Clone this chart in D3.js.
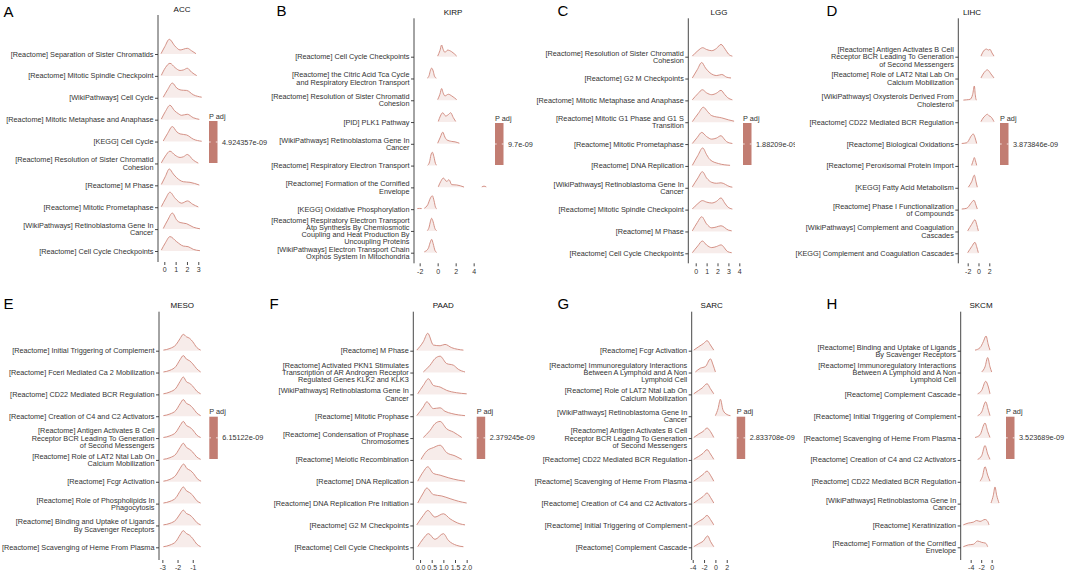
<!DOCTYPE html>
<html><head><meta charset="utf-8">
<script src="https://cdn.jsdelivr.net/npm/d3@7"></script>
<style>
body{margin:0;background:#fff}
svg{display:block}
text{font-family:"Liberation Sans",Arial,Helvetica,sans-serif}
</style>
</head><body>
<svg id="c" width="1065" height="571"></svg>
<script>
// ---------------- DATA ----------------
const panelTitles = ["ACC","KIRP","LGG","LIHC","MESO","PAAD","SARC","SKCM"];
const panelLetters = ["A","B","C","D","E","F","G","H"];
const padjLabels = ["4.924357e-09","9.7e-09","1.88209e-09","3.873846e-09","6.15122e-09","2.379245e-09","2.833708e-09","3.523689e-09"];
const xTickValues = [[0,1,2,3],[-2,0,2,4],[0,1,2,3,4],[-2,0,2],[-3,-2,-1],[0,0.5,1,1.5,2],[-4,-2,0,2],[-4,-2,0]];
const xTickLabels = [["0","1","2","3"],["-2","0","2","4"],["0","1","2","3","4"],["-2","0","2"],["-3","-2","-1"],["0.0","0.5","1.0","1.5","2.0"],["-4","-2","0","2"],["-4","-2","0"]];

const accTerms = ["[Reactome] Separation of Sister Chromatids","[Reactome] Mitotic Spindle Checkpoint","[WikiPathways] Cell Cycle","[Reactome] Mitotic Metaphase and Anaphase","[KEGG] Cell Cycle","[Reactome] Resolution of Sister Chromatid\nCohesion","[Reactome] M Phase","[Reactome] Mitotic Prometaphase","[WikiPathways] Retinoblastoma Gene In\nCancer","[Reactome] Cell Cycle Checkpoints"];
const kirpTerms = ["[Reactome] Cell Cycle Checkpoints","[Reactome] the Citric Acid Tca Cycle\nand Respiratory Electron Transport","[Reactome] Resolution of Sister Chromatid\nCohesion","[PID] PLK1 Pathway","[WikiPathways] Retinoblastoma Gene In\nCancer","[Reactome] Respiratory Electron Transport","[Reactome] Formation of the Cornified\nEnvelope","[KEGG] Oxidative Phosphorylation","[Reactome] Respiratory Electron Transport\nAtp Synthesis By Chemiosmotic\nCoupling and Heat Production By\nUncoupling Proteins","[WikiPathways] Electron Transport Chain\nOxphos System In Mitochondria"];
const lggTerms = ["[Reactome] Resolution of Sister Chromatid\nCohesion","[Reactome] G2 M Checkpoints","[Reactome] Mitotic Metaphase and Anaphase","[Reactome] Mitotic G1 Phase and G1 S\nTransition","[Reactome] Mitotic Prometaphase","[Reactome] DNA Replication","[WikiPathways] Retinoblastoma Gene In\nCancer","[Reactome] Mitotic Spindle Checkpoint","[Reactome] M Phase","[Reactome] Cell Cycle Checkpoints"];
const lihcTerms = ["[Reactome] Antigen Activates B Cell\nReceptor BCR Leading To Generation\nof Second Messengers","[Reactome] Role of LAT2 Ntal Lab On\nCalcium Mobilization","[WikiPathways] Oxysterols Derived From\nCholesterol","[Reactome] CD22 Mediated BCR Regulation","[Reactome] Biological Oxidations","[Reactome] Peroxisomal Protein Import","[KEGG] Fatty Acid Metabolism","[Reactome] Phase I Functionalization\nof Compounds","[WikiPathways] Complement and Coagulation\nCascades","[KEGG] Complement and Coagulation Cascades"];
const mesoTerms = ["[Reactome] Initial Triggering of Complement","[Reactome] Fceri Mediated Ca 2 Mobilization","[Reactome] CD22 Mediated BCR Regulation","[Reactome] Creation of C4 and C2 Activators","[Reactome] Antigen Activates B Cell\nReceptor BCR Leading To Generation\nof Second Messengers","[Reactome] Role of LAT2 Ntal Lab On\nCalcium Mobilization","[Reactome] Fcgr Activation","[Reactome] Role of Phospholipids In\nPhagocytosis","[Reactome] Binding and Uptake of Ligands\nBy Scavenger Receptors","[Reactome] Scavenging of Heme From Plasma"];
const paadTerms = ["[Reactome] M Phase","[Reactome] Activated PKN1 Stimulates\nTranscription of AR Androgen Receptor\nRegulated Genes KLK2 and KLK3","[WikiPathways] Retinoblastoma Gene In\nCancer","[Reactome] Mitotic Prophase","[Reactome] Condensation of Prophase\nChromosomes","[Reactome] Meiotic Recombination","[Reactome] DNA Replication","[Reactome] DNA Replication Pre Initiation","[Reactome] G2 M Checkpoints","[Reactome] Cell Cycle Checkpoints"];
const sarcTerms = ["[Reactome] Fcgr Activation","[Reactome] Immunoregulatory Interactions\nBetween A Lymphoid and A Non\nLymphoid Cell","[Reactome] Role of LAT2 Ntal Lab On\nCalcium Mobilization","[WikiPathways] Retinoblastoma Gene In\nCancer","[Reactome] Antigen Activates B Cell\nReceptor BCR Leading To Generation\nof Second Messengers","[Reactome] CD22 Mediated BCR Regulation","[Reactome] Scavenging of Heme From Plasma","[Reactome] Creation of C4 and C2 Activators","[Reactome] Initial Triggering of Complement","[Reactome] Complement Cascade"];
const skcmTerms = ["[Reactome] Binding and Uptake of Ligands\nBy Scavenger Receptors","[Reactome] Immunoregulatory Interactions\nBetween A Lymphoid and A Non\nLymphoid Cell","[Reactome] Complement Cascade","[Reactome] Initial Triggering of Complement","[Reactome] Scavenging of Heme From Plasma","[Reactome] Creation of C4 and C2 Activators","[Reactome] CD22 Mediated BCR Regulation","[WikiPathways] Retinoblastoma Gene In\nCancer","[Reactome] Keratinization","[Reactome] Formation of the Cornified\nEnvelope"];

// ridge density profiles: [value, relative density] (null = gap)
const accRidges = [
 [[-0.29,0.02],[0.05,0.5],[0.44,0.98],[0.94,0.53],[1.39,0.27],[2.03,0.38],[2.4,0.22],[2.8,0.02]],
 [[-0.26,0.04],[0.1,0.55],[0.5,0.84],[0.95,0.55],[1.39,0.36],[1.7,0.4],[2.03,0.51],[2.4,0.25],[2.86,0.02]],
 [[-0.09,0.04],[0.3,0.55],[0.71,0.98],[1.1,0.65],[1.39,0.53],[1.7,0.5],[1.97,0.49],[2.56,0.2],[3.3,0.04]],
 [[-0.26,0.04],[0.1,0.55],[0.5,0.96],[0.9,0.6],[1.24,0.4],[1.53,0.29],[2.03,0.36],[2.56,0.13],[3.09,0.02]],
 [[-0.09,0.04],[0.3,0.55],[0.71,1.0],[1.1,0.65],[1.39,0.51],[1.97,0.44],[2.56,0.16],[3.3,0.02]],
 [[-0.26,0.04],[0.1,0.5],[0.5,0.82],[0.95,0.55],[1.39,0.4],[1.7,0.45],[2.03,0.6],[2.56,0.22],[3.0,0.02]],
 [[-0.26,0.06],[0.1,0.6],[0.44,1.09],[0.8,0.75],[1.09,0.51],[1.68,0.24],[2.27,0.2],[3.09,0.02]],
 [[-0.26,0.04],[0.1,0.55],[0.5,1.0],[0.95,0.6],[1.53,0.27],[2.05,0.42],[2.5,0.2],[3.0,0.02]],
 [[-0.09,0.04],[0.3,0.6],[0.71,1.07],[1.1,0.6],[1.39,0.44],[1.97,0.36],[2.56,0.13],[3.15,0.02]],
 [[-0.26,0.06],[0.1,0.55],[0.5,0.96],[1.09,0.62],[1.68,0.33],[2.1,0.29],[2.56,0.11],[3.15,0.02]]
];
const kirpRidges = [
 [[0.0,0.04],[0.25,0.4],[0.44,0.78],[0.6,0.5],[0.81,0.29],[1.11,0.44],[1.56,0.33],[2.11,0.04]],
 [[-1.15,0.02],[-0.95,0.2],[-0.8,0.55],[-0.67,0.69],[-0.5,0.5],[-0.35,0.15],[-0.15,0.02]],
 [[0.0,0.04],[0.25,0.4],[0.44,0.78],[0.6,0.5],[0.81,0.29],[1.19,0.4],[1.56,0.29],[2.11,0.04]],
 [[0.07,0.04],[0.3,0.4],[0.56,0.62],[0.89,0.4],[1.2,0.5],[1.44,0.62],[1.74,0.29],[2.0,0.04]],
 [[0.0,0.04],[0.3,0.45],[0.56,0.78],[0.8,0.45],[1.0,0.27],[1.56,0.16],[1.93,0.13],[2.41,0.04]],
 [[-1.11,0.02],[-0.9,0.25],[-0.75,0.7],[-0.59,0.89],[-0.42,0.6],[-0.25,0.15],[-0.11,0.02]],
 [[0.07,0.04],[0.35,0.4],[0.63,0.62],[1.0,0.4],[1.26,0.51],[1.56,0.18],[2.11,0.16],[2.93,0.02],[3.5,null],[4.9,0.03],[5.15,0.08],[5.4,0.03]],
 [[-2.26,0.04],[-2.0,0.05],[-1.78,0.04],[-1.6,null],[-1.48,0.06],[-1.1,0.3],[-0.8,0.75],[-0.59,0.89],[-0.4,0.55],[-0.25,0.15],[-0.11,0.02]],
 [[-1.15,0.02],[-0.95,0.25],[-0.8,0.65],[-0.67,0.84],[-0.5,0.6],[-0.3,0.15],[-0.11,0.02]],
 [[-1.48,0.06],[-1.04,0.29],[-0.85,0.65],[-0.67,0.89],[-0.5,0.6],[-0.3,0.15],[-0.11,0.02]]
];
const lggRidges = [
 [[-0.31,0.04],[0.2,0.4],[0.64,0.6],[1.0,0.48],[1.47,0.4],[1.9,0.55],[2.32,0.82],[2.7,0.5],[3.0,0.18],[3.36,0.04]],
 [[-0.31,0.04],[0.15,0.6],[0.55,1.07],[0.9,0.7],[1.31,0.38],[1.93,0.2],[2.39,0.27],[2.84,0.09],[3.24,0.04]],
 [[-0.31,0.04],[0.2,0.45],[0.61,0.71],[1.0,0.5],[1.47,0.38],[1.9,0.48],[2.32,0.67],[2.65,0.4],[2.94,0.18],[3.36,0.04]],
 [[-0.31,0.04],[0.25,0.6],[0.7,1.0],[1.1,0.7],[1.47,0.44],[2.39,0.29],[3.0,0.16],[3.52,0.07]],
 [[-0.31,0.04],[0.15,0.45],[0.55,0.78],[1.0,0.5],[1.47,0.33],[1.9,0.4],[2.32,0.56],[2.6,0.35],[2.84,0.16],[3.36,0.04]],
 [[-0.31,0.04],[0.2,0.7],[0.64,1.2],[1.0,0.75],[1.31,0.42],[2.08,0.16],[3.15,0.04]],
 [[-0.31,0.06],[0.2,0.65],[0.61,1.07],[1.0,0.65],[1.47,0.36],[1.9,0.3],[2.32,0.33],[3.15,0.07],[3.36,0.04]],
 [[-0.31,0.04],[0.2,0.4],[0.61,0.6],[1.0,0.5],[1.47,0.44],[1.9,0.55],[2.32,0.78],[2.65,0.45],[2.94,0.18],[3.36,0.04]],
 [[-0.31,0.04],[0.15,0.6],[0.55,0.98],[1.0,0.5],[1.47,0.24],[1.9,0.3],[2.32,0.38],[3.0,0.09],[3.3,0.04]],
 [[-0.31,0.04],[0.2,0.5],[0.61,0.82],[1.0,0.55],[1.47,0.38],[1.9,0.45],[2.32,0.56],[2.94,0.11],[3.3,0.04]]
];
const lihcRidges = [
 [[0.46,0.04],[0.8,0.3],[1.08,0.44],[1.51,0.51],[1.82,0.44],[2.13,0.49],[2.5,0.25],[2.87,0.04]],
 [[0.46,0.04],[0.85,0.3],[1.2,0.47],[1.64,0.58],[2.0,0.47],[2.3,0.31],[2.87,0.04]],
 [[-2.8,0.02],[-2.2,0.04],[-1.57,0.07],[-1.08,0.4],[-0.77,0.96],[-0.6,0.4],[-0.46,0.07],[-0.34,0.02]],
 [[0.46,0.04],[0.85,0.28],[1.2,0.42],[1.64,0.53],[2.0,0.42],[2.3,0.36],[2.87,0.04]],
 [[-3.1,0.04],[-2.19,0.09],[-1.8,0.25],[-1.45,0.49],[-0.96,0.67],[-0.65,0.44],[-0.34,0.04]],
 [[-1.27,0.04],[-0.96,0.38],[-0.77,0.56],[-0.59,0.38],[-0.34,0.04]],
 [[-1.88,0.04],[-1.27,0.4],[-0.77,0.84],[-0.46,0.4],[-0.22,0.04]],
 [[-3.1,0.04],[-2.19,0.09],[-1.8,0.22],[-1.45,0.4],[-0.83,0.62],[-0.46,0.29],[-0.22,0.04]],
 [[-2.0,0.04],[-1.27,0.47],[-0.65,0.78],[-0.34,0.47],[-0.03,0.04]],
 [[-2.0,0.04],[-1.27,0.44],[-0.65,0.73],[-0.34,0.44],[-0.03,0.04]]
];
const mesoRidges = [
 [[-2.93,0.04],[-2.5,0.15],[-2.1,0.4],[-1.84,0.8],[-1.62,1.09],[-1.42,0.93],[-1.2,0.82],[-1.0,0.6],[-0.74,0.22],[-0.48,0.04]],
 [[-2.93,0.04],[-2.5,0.15],[-2.1,0.42],[-1.84,0.85],[-1.62,1.13],[-1.42,0.9],[-1.2,0.78],[-1.0,0.58],[-0.74,0.25],[-0.48,0.04]],
 [[-2.93,0.04],[-2.5,0.16],[-2.1,0.42],[-1.84,0.85],[-1.62,1.16],[-1.42,0.85],[-1.2,0.73],[-1.0,0.55],[-0.74,0.22],[-0.48,0.04]],
 [[-2.93,0.04],[-2.5,0.15],[-2.1,0.4],[-1.84,0.82],[-1.62,1.11],[-1.42,0.86],[-1.2,0.75],[-1.0,0.56],[-0.74,0.22],[-0.48,0.04]],
 [[-2.93,0.04],[-2.5,0.15],[-2.1,0.4],[-1.84,0.82],[-1.62,1.11],[-1.42,0.84],[-1.2,0.72],[-1.0,0.55],[-0.74,0.2],[-0.48,0.04]],
 [[-2.93,0.04],[-2.5,0.15],[-2.1,0.4],[-1.84,0.82],[-1.62,1.11],[-1.42,0.84],[-1.2,0.7],[-1.0,0.52],[-0.74,0.2],[-0.48,0.04]],
 [[-2.93,0.04],[-2.5,0.16],[-2.1,0.45],[-1.84,0.88],[-1.6,1.18],[-1.38,0.88],[-1.15,0.75],[-0.95,0.55],[-0.7,0.2],[-0.45,0.04]],
 [[-2.93,0.04],[-2.5,0.15],[-2.1,0.4],[-1.84,0.82],[-1.62,1.11],[-1.42,0.86],[-1.2,0.73],[-1.0,0.55],[-0.74,0.2],[-0.48,0.04]],
 [[-2.93,0.04],[-2.5,0.14],[-2.1,0.38],[-1.84,0.76],[-1.62,1.02],[-1.42,0.8],[-1.2,0.7],[-1.0,0.52],[-0.74,0.2],[-0.48,0.04]],
 [[-2.93,0.04],[-2.5,0.15],[-2.1,0.4],[-1.84,0.82],[-1.62,1.11],[-1.42,0.92],[-1.2,0.8],[-1.0,0.58],[-0.74,0.22],[-0.48,0.04]]
];
const paadRidges = [
 [[-0.14,0.04],[0.14,0.6],[0.33,1.16],[0.57,0.38],[0.86,0.33],[1.07,0.42],[1.36,0.2],[1.86,0.04]],
 [[0.14,0.04],[0.43,0.49],[0.64,0.93],[0.86,1.09],[1.14,0.6],[1.43,0.49],[1.64,0.22],[1.93,0.04]],
 [[-0.1,0.04],[0.14,0.6],[0.36,1.04],[0.57,0.6],[0.86,0.49],[1.14,0.27],[1.57,0.11],[2.0,0.04]],
 [[-0.14,0.04],[0.14,0.62],[0.29,0.96],[0.57,0.51],[0.86,0.56],[1.07,0.33],[1.36,0.18],[1.93,0.04]],
 [[0.14,0.04],[0.43,0.51],[0.64,0.96],[0.86,1.11],[1.14,0.62],[1.43,0.4],[1.79,0.04]],
 [[0.04,0.04],[0.29,0.6],[0.57,0.82],[0.86,0.98],[1.14,0.49],[1.5,0.27],[1.79,0.04]],
 [[-0.1,0.04],[0.14,0.67],[0.33,1.0],[0.57,0.56],[0.86,0.44],[1.21,0.27],[1.64,0.11],[1.93,0.04]],
 [[-0.1,0.04],[0.14,0.71],[0.29,1.04],[0.57,0.6],[0.93,0.51],[1.29,0.33],[1.64,0.16],[2.0,0.04]],
 [[-0.14,0.04],[0.14,0.67],[0.33,1.0],[0.64,0.56],[1.0,0.78],[1.29,0.44],[1.71,0.11],[1.93,0.04]],
 [[-0.1,0.04],[0.14,0.58],[0.36,0.91],[0.64,0.53],[1.0,0.91],[1.21,0.47],[1.57,0.13],[1.86,0.04]]
];
const sarcRidges = [
 [[-3.82,0.04],[-2.94,0.27],[-2.06,0.49],[-1.47,0.67],[-0.88,0.38],[-0.29,0.04]],
 [[-3.53,0.04],[-2.65,0.29],[-1.76,0.4],[-0.88,0.91],[-0.41,0.51],[0.0,0.04]],
 [[-3.82,0.04],[-2.94,0.27],[-2.35,0.42],[-1.47,0.71],[-0.88,0.38],[-0.29,0.04]],
 [[0.0,0.04],[0.47,0.51],[0.88,1.13],[1.35,0.4],[2.06,0.11],[2.65,0.04]],
 [[-3.82,0.04],[-2.94,0.27],[-2.18,0.44],[-1.47,0.67],[-0.88,0.44],[-0.29,0.04]],
 [[-3.82,0.04],[-2.94,0.24],[-2.18,0.44],[-1.47,0.69],[-0.88,0.4],[-0.29,0.04]],
 [[-3.82,0.04],[-2.94,0.27],[-2.18,0.49],[-1.47,0.71],[-0.88,0.44],[-0.29,0.04]],
 [[-3.82,0.04],[-2.94,0.27],[-2.18,0.47],[-1.47,0.71],[-0.88,0.42],[-0.29,0.04]],
 [[-3.82,0.04],[-2.94,0.27],[-2.18,0.44],[-1.47,0.67],[-0.88,0.4],[-0.29,0.04]],
 [[-3.82,0.04],[-2.94,0.24],[-2.18,0.4],[-1.35,0.76],[-0.88,0.4],[-0.29,0.04]]
];
const skcmRidges = [
 [[-3.17,0.04],[-2.22,0.2],[-1.59,0.6],[-1.08,0.98],[-0.63,0.38],[-0.32,0.04]],
 [[-1.9,0.04],[-1.27,0.38],[-0.76,1.0],[-0.32,0.38],[0.0,0.04]],
 [[-2.67,0.04],[-1.9,0.27],[-1.14,0.87],[-0.63,0.49],[-0.32,0.04]],
 [[-2.67,0.04],[-1.9,0.29],[-1.14,0.96],[-0.63,0.4],[-0.32,0.04]],
 [[-3.17,0.04],[-2.22,0.22],[-1.27,1.0],[-0.76,0.44],[-0.32,0.04]],
 [[-2.67,0.04],[-1.9,0.29],[-1.27,0.96],[-0.76,0.4],[-0.32,0.04]],
 [[-2.22,0.04],[-1.78,0.33],[-1.27,1.0],[-0.76,0.44],[-0.32,0.04]],
 [[-0.13,0.04],[0.32,0.56],[0.63,1.11],[0.95,0.56],[1.4,0.04]],
 [[-5.4,0.04],[-4.44,0.16],[-3.49,0.22],[-2.86,0.33],[-2.22,0.27],[-1.27,0.4],[-0.76,0.27],[-0.51,0.04]],
 [[-5.4,0.04],[-4.44,0.16],[-3.49,0.2],[-2.67,0.42],[-1.9,0.33],[-1.14,0.27],[-0.76,0.04]]
];

const allTerms = [accTerms,kirpTerms,lggTerms,lihcTerms,mesoTerms,paadTerms,sarcTerms,skcmTerms];
const allRidges = [accRidges,kirpRidges,lggRidges,lihcRidges,mesoRidges,paadRidges,sarcRidges,skcmRidges];

// ---------------- LAYOUT (positions / sizes) ----------------
const layout = [
 {x0:158,  kx:11.33, d0:-0.556, d1:3.6, yTop:15,   yBot:262,   r0:54,    r1:251,   tx:182,   ty:12.3, lx:3.5,  ly:16.5, bx:209,   bt:121,   bb:163, clipR:null},
 {x0:414,  kx:9.0,   d0:-2.63,  d1:6.0, yTop:18.3, yBot:263.3, r0:56.7,  r1:252.7, tx:453,   ty:14.5, lx:276.5,ly:15.5, bx:495,   bt:123,   bb:165, clipR:null},
 {x0:688.3,kx:10.9,  d0:-0.68,  d1:4.3, yTop:18.3, yBot:263.3, r0:56.7,  r1:253.3, tx:719,   ty:14.5, lx:557.5,ly:15.5, bx:743,   bt:123,   bb:165, clipR:795},
 {x0:958.3,kx:5.4,   d0:-3.74,  d1:3.1, yTop:18.3, yBot:263.3, r0:56.7,  r1:253.3, tx:972,   ty:14.5, lx:826.5,ly:15.5, bx:1000,  bt:123,   bb:165, clipR:null},
 {x0:159,  kx:15.2,  d0:-3.22,  d1:-0.3,yTop:311.7,yBot:560,   r0:350.7, r1:547.3, tx:182.3, ty:308,  lx:3.5,  ly:309,  bx:209.3, bt:416.7, bb:459, clipR:null},
 {x0:413.3,kx:23.3,  d0:-0.29,  d1:2.1, yTop:311.7,yBot:560,   r0:350.7, r1:547.3, tx:443.3, ty:308,  lx:269.5,ly:309,  bx:476.7, bt:416.7, bb:459, clipR:null},
 {x0:691.7,kx:5.67,  d0:-4.18,  d1:3.0, yTop:311.7,yBot:560,   r0:350.7, r1:547.3, tx:711.7, ty:308,  lx:557.5,ly:309,  bx:736.7, bt:416.7, bb:459, clipR:null, clipL:531},
 {x0:960.7,kx:5.25,  d0:-5.9,  d1:1.6,  yTop:311.7,yBot:560,   r0:350.7, r1:547.3, tx:981,   ty:308,  lx:826.5,ly:309,  bx:1006,  bt:416.7, bb:459, clipR:null}
];

const lineColor = "#cf8679";
const fillColor = "rgba(205,135,122,0.16)";
const barColor = "#c27d72";
const axisColor = "#333333";
const textColor = "#333333";
const labelSize = 7.3, lineH = 7.25;

const svg = d3.select("#c");
const defs = svg.append("defs");

allTerms.forEach((terms, i) => {
  const L = layout[i];
  const ridges = allRidges[i];
  const g = svg.append("g");

  const x = d3.scaleLinear().domain([L.d0, L.d1]).range([L.x0, L.x0 + (L.d1 - L.d0) * L.kx]);
  const y = d3.scalePoint().domain(terms.map((t, j) => j)).range([L.r0, L.r1]);
  const h = d3.scaleLinear().domain([0, 1]).range([0, 15]);

  // panel letter & title
  g.append("text").attr("x", L.lx).attr("y", L.ly).attr("font-size", 15).attr("fill", "#000").text(panelLetters[i]);
  g.append("text").attr("x", L.tx).attr("y", L.ty).attr("font-size", 8).attr("text-anchor", "middle").attr("fill", "#111").text(panelTitles[i]);

  // ridges (top to bottom, lower ones drawn on top)
  ridges.forEach((pts, j) => {
    const base = y(j);
    const area = d3.area().defined(d => d[1] !== null)
      .x(d => x(d[0])).y0(base).y1(d => base - h(d[1])).curve(d3.curveMonotoneX);
    const line = d3.line().defined(d => d[1] !== null)
      .x(d => x(d[0])).y(d => base - h(d[1])).curve(d3.curveMonotoneX);
    g.append("path").attr("d", area(pts)).attr("fill", fillColor).attr("stroke", "none");
    g.append("path").attr("d", line(pts)).attr("fill", "none").attr("stroke", lineColor).attr("stroke-width", 0.9);
  });

  // y axis line
  g.append("line").attr("x1", L.x0).attr("x2", L.x0).attr("y1", L.yTop).attr("y2", L.yBot)
    .attr("stroke", axisColor).attr("stroke-width", 0.9);
  // y ticks
  const yAxis = d3.axisLeft(y).tickSize(3).tickFormat("").tickSizeOuter(0);
  const ya = g.append("g").attr("transform", `translate(${L.x0},0)`).call(yAxis);
  ya.select(".domain").remove();
  ya.selectAll("line").attr("stroke", axisColor).attr("stroke-width", 0.9);

  // y labels (multi-line)
  let labG = g.append("g");
  if (L.clipL) {
    const id = "clipL" + i;
    defs.append("clipPath").attr("id", id).append("rect").attr("x", L.clipL).attr("y", 0).attr("width", 2000).attr("height", 2000);
    labG.attr("clip-path", `url(#${id})`);
  }
  terms.forEach((t, j) => {
    const lines = t.split("\n");
    const n = lines.length;
    const txt = labG.append("text").attr("text-anchor", "end").attr("font-size", labelSize).attr("fill", textColor);
    lines.forEach((ln, k) => {
      txt.append("tspan").attr("x", L.x0 - 4.5)
        .attr("y", y(j) + (k - (n - 1) / 2) * lineH + labelSize * 0.35).text(ln);
    });
  });

  // x axis ticks (no domain line)
  const xAxis = d3.axisBottom(x).tickValues(xTickValues[i]).tickSize(3).tickPadding(2.5)
    .tickFormat((d, k) => xTickLabels[i][k]);
  const xa = g.append("g").attr("transform", `translate(0,${L.yBot})`).call(xAxis);
  xa.select(".domain").remove();
  xa.selectAll("line").attr("stroke", axisColor).attr("stroke-width", 0.9);
  xa.selectAll("text").attr("font-size", 7).attr("fill", textColor).attr("font-family", '"Liberation Sans",Arial,sans-serif');

  // legend colourbar
  const bw = 8.5;
  const lg = g.append("g");
  lg.append("text").attr("x", L.bx).attr("y", L.bt - 2.5).attr("font-size", labelSize).attr("fill", textColor).text("P adj");
  lg.append("rect").attr("x", L.bx).attr("y", L.bt).attr("width", bw).attr("height", L.bb - L.bt).attr("fill", barColor);
  const mid = (L.bt + L.bb) / 2;
  lg.append("line").attr("x1", L.bx).attr("x2", L.bx + 1.7).attr("y1", mid).attr("y2", mid).attr("stroke", "#fff").attr("stroke-width", 0.8);
  lg.append("line").attr("x1", L.bx + bw - 1.7).attr("x2", L.bx + bw).attr("y1", mid).attr("y2", mid).attr("stroke", "#fff").attr("stroke-width", 0.8);
  let lt = lg.append("text").attr("x", L.bx + 13).attr("y", mid + labelSize * 0.35).attr("font-size", labelSize).attr("fill", textColor).text(padjLabels[i]);
  if (L.clipR) {
    const id = "clipR" + i;
    defs.append("clipPath").attr("id", id).append("rect").attr("x", 0).attr("y", 0).attr("width", L.clipR).attr("height", 2000);
    lt.attr("clip-path", `url(#${id})`);
  }
});
</script>
</body></html>
